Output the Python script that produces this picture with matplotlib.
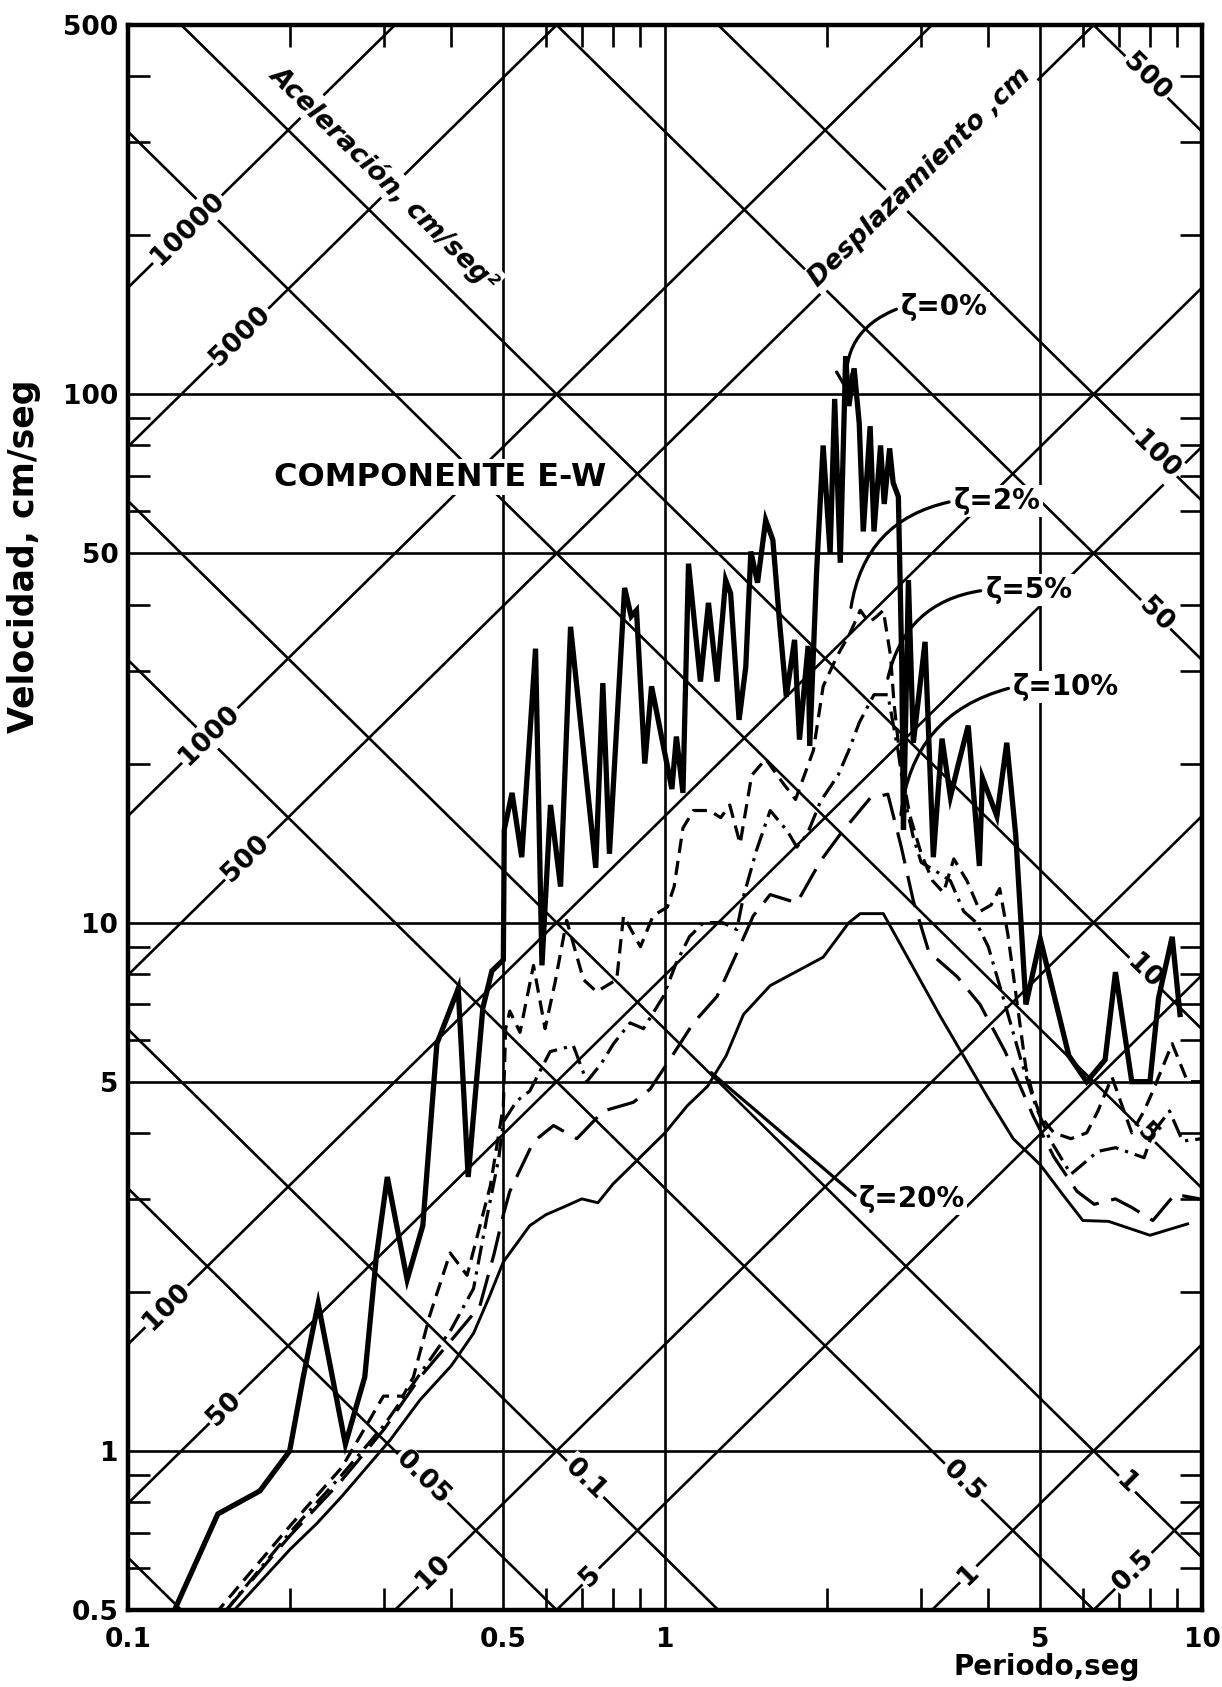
"""
Tripartite response spectra, componente E-W.
"""
import numpy as np
import matplotlib
matplotlib.use('Agg')
import matplotlib.pyplot as plt
from matplotlib.ticker import NullFormatter, LogLocator

# Axis ticks (major ones carry a grid line).
x_ticks = [0.1, 0.5, 1, 5, 10]
x_tick_labels = ['0.1', '0.5', '1', '5', '10']
y_ticks = [0.5, 1, 5, 10, 50, 100, 500]
y_tick_labels = ['0.5', '1', '5', '10', '50', '100', '500']

# Diagonal scales: displacement (cm) and acceleration (cm/seg^2).
disp_values = [0.01, 0.05, 0.1, 0.5, 1, 5, 10, 50, 100, 500]
accel_values = [0.5, 1, 5, 10, 50, 100, 500, 1000, 5000, 10000]

# Labelled diagonals and the period at which each label sits.
disp_labels = [0.05, 0.1, 0.5, 1, 5, 10, 50, 100, 500]
disp_label_T = [0.354, 0.71, 3.59, 7.25, 7.9, 7.8, 8.2, 8.2, 7.88]
accel_labels = [0.5, 1, 5, 10, 50, 100, 500, 1000, 5000, 10000]
accel_label_T = [7.45, 3.67, 0.727, 0.37, 0.151, 0.118, 0.166, 0.142,
                 0.162, 0.129]

# Spectra: periodo (seg) and velocidad (cm/seg) for each damping.
z0_T = [0.121, 0.147, 0.176, 0.2, 0.212, 0.226, 0.254, 0.276, 0.29, 0.304,
        0.331, 0.354, 0.376, 0.412, 0.43, 0.458, 0.476, 0.5, 0.502, 0.519,
        0.541, 0.574, 0.59, 0.612, 0.639, 0.667, 0.743, 0.766, 0.788, 0.841,
        0.865, 0.885, 0.917, 0.944, 1.03, 1.05, 1.08, 1.106, 1.164, 1.205,
        1.25, 1.297, 1.325, 1.374, 1.414, 1.445, 1.487, 1.54, 1.588, 1.633,
        1.682, 1.743, 1.78, 1.847, 1.86, 1.915, 1.97, 2.03, 2.07, 2.12,
        2.17, 2.2, 2.25, 2.3, 2.34, 2.41, 2.45, 2.52, 2.56, 2.62, 2.66,
        2.72, 2.76, 2.78, 2.84, 2.9, 3.05, 3.16, 3.28, 3.4, 3.52, 3.67,
        3.85, 3.9, 4.15, 4.33, 4.5, 4.7, 5.0, 5.65, 6.1, 6.6, 6.9, 7.4,
        8.0, 8.3, 8.8, 9.1]
z0_V = [0.49, 0.76, 0.84, 1.0, 1.38, 1.9, 1.03, 1.38, 2.33, 3.3,
        2.11, 2.67, 5.9, 7.5, 3.3, 6.9, 8.1, 8.5, 15, 17.6,
        13.3, 33, 8.3, 16.7, 11.7, 36.3, 12.7, 28.4, 13.5, 43,
        38, 39, 20, 28, 17.9, 22.5, 17.6, 47.8, 28.6, 40.3,
        28.6, 44.5, 42, 24.2, 30.5, 50.4, 44, 57.8, 53, 37.4,
        26.8, 34.3, 22.2, 33.4, 21.6, 45.8, 80, 50, 98, 48,
        118, 95, 112, 88, 55, 87, 55, 80, 62, 79, 68,
        64, 31, 15, 44.5, 21.9, 34, 13.3, 22.3, 17.3, 20, 23.6,
        12.8, 18.8, 15.9, 21.9, 14.6, 7.0, 9.3, 5.6, 5.0, 5.5, 8.06, 5.0,
        5.0, 7.2, 9.4, 6.7]

z2_T = [0.145, 0.2, 0.25, 0.274, 0.299, 0.325, 0.34, 0.365, 0.398, 0.428,
        0.473, 0.5, 0.505, 0.514, 0.537, 0.569, 0.598, 0.624, 0.656, 0.705,
        0.746, 0.813, 0.837, 0.9, 0.95, 1.01, 1.04, 1.08, 1.13, 1.21,
        1.27, 1.32, 1.38, 1.45, 1.54, 1.65, 1.75, 1.89, 1.97, 2.09,
        2.21, 2.31, 2.4, 2.48, 2.55, 2.63, 2.67, 2.75, 2.86, 3.0,
        3.15, 3.3, 3.45, 3.65, 3.86, 4.05, 4.2, 4.35, 4.5, 4.7,
        4.85, 5.0, 5.3, 5.7, 6.1, 6.4, 6.8, 7.1, 7.4, 7.8,
        8.1, 8.8, 9.4, 10.0]
z2_V = [0.49, 0.72, 0.93, 1.09, 1.27, 1.27, 1.38, 1.81, 2.37, 2.15,
        3.18, 4.5, 6.3, 6.8, 6.2, 8.3, 6.3, 7.7, 10.1, 7.8,
        7.4, 7.8, 10.3, 9.0, 10.3, 10.7, 11.7, 15.1, 16.3, 16.3,
        15.8, 16.7, 14.1, 19, 20.4, 18.5, 17.1, 21.2, 28, 31.9,
        35.3, 39, 37, 38, 39, 32, 26, 19.7, 15.9, 13.5,
        12, 11.4, 13.2, 12, 10.5, 10.8, 11.6, 9.5, 7.35, 5.3,
        4.7, 4.3, 4.0, 3.9, 4.0, 4.4, 5.1, 4.5, 4.0, 4.4,
        4.8, 5.9, 5.0, 5.0]

z5_T = [0.15, 0.2, 0.25, 0.3, 0.35, 0.4, 0.44, 0.466, 0.49, 0.5,
        0.53, 0.56, 0.611, 0.675, 0.715, 0.76, 0.802, 0.861, 0.912, 0.938,
        0.993, 1.05, 1.11, 1.18, 1.28, 1.36, 1.4, 1.48, 1.57, 1.69,
        1.76, 1.84, 1.95, 2.1, 2.2, 2.3, 2.45, 2.6, 2.72, 2.8,
        2.9, 3.0, 3.2, 3.4, 3.6, 3.8, 4.0, 4.3, 4.6, 4.9,
        5.2, 5.7, 6.4, 6.9, 7.8, 8.1, 8.7, 9.2, 10.0]
z5_V = [0.49, 0.7, 0.9, 1.12, 1.4, 1.7, 2.03, 2.77, 3.57, 4.2,
        4.6, 4.8, 5.7, 5.85, 5.0, 5.4, 5.9, 6.46, 6.3, 6.6,
        7.25, 8.4, 9.4, 10, 10, 9.7, 11.2, 13.7, 16.3, 14.9,
        13.9, 14.7, 17, 19, 21.2, 23.9, 27, 27, 21, 17,
        14.5, 13, 12.5, 12, 10.5, 10, 9, 7, 5.5, 4.5,
        3.9, 3.34, 3.69, 3.75, 3.59, 4.0, 4.4, 3.86, 3.9]

z10_T = [0.15, 0.2, 0.25, 0.3, 0.35, 0.4, 0.452, 0.48, 0.5, 0.514,
         0.569, 0.62, 0.685, 0.768, 0.873, 0.938, 1.02, 1.13, 1.25, 1.36,
         1.46, 1.57, 1.76, 1.95, 2.12, 2.41, 2.6, 2.75, 2.9, 3.1,
         3.5, 3.86, 4.3, 4.85, 5.3, 5.85, 6.3, 6.9, 7.4, 8.1,
         8.9, 9.9]
z10_V = [0.49, 0.69, 0.88, 1.1, 1.38, 1.62, 1.88, 2.35, 2.8, 3.1,
         3.85, 4.13, 3.9, 4.4, 4.57, 4.84, 5.5, 6.46, 7.25, 8.75,
         10.3, 11.3, 10.9, 13.1, 14.7, 17.2, 17.5, 14, 11, 8.8,
         7.9, 7.0, 5.7, 4.3, 3.6, 3.1, 2.93, 3.0, 2.89, 2.73,
         3.06, 3.0]

z20_T = [0.155, 0.2, 0.225, 0.25, 0.308, 0.35, 0.4, 0.44, 0.47, 0.5,
         0.56, 0.6, 0.65, 0.7, 0.75, 0.8, 0.9, 1.0, 1.1, 1.2,
         1.3, 1.4, 1.57, 1.97, 2.2, 2.31, 2.55, 3.25, 4.0, 4.45,
         5.0, 5.5, 6.0, 6.7, 8.0, 9.4]
z20_V = [0.49, 0.65, 0.73, 0.82, 1.05, 1.25, 1.45, 1.67, 1.95, 2.28,
         2.67, 2.8, 2.9, 3.0, 2.95, 3.2, 3.6, 4.0, 4.5, 4.9,
         5.6, 6.7, 7.6, 8.6, 10.0, 10.4, 10.4, 6.67, 4.65, 3.9,
         3.48, 3.06, 2.73, 2.72, 2.56, 2.69]

WHITE_BOX = dict(facecolor='white', edgecolor='none', pad=1.5)


def diagonalAngle(fig, ax):
    """
    Angle (deg) of a 45 degree line in data space as it looks on screen.
    """
    bb = ax.get_position()
    wpx = bb.width * fig.get_figwidth()
    hpx = bb.height * fig.get_figheight()
    xdec = wpx / np.log10(10 / 0.1)
    ydec = hpx / np.log10(500 / 0.5)
    return np.degrees(np.arctan2(ydec, xdec))


def drawDiagonals(ax, ang):
    """
    Lines of constant displacement and acceleration plus their values.
    """
    T = np.array([0.01, 100.0])
    for D in disp_values:
        ax.plot(T, 2 * np.pi * D / T, color='k', lw=1.9, zorder=1)
    for A in accel_values:
        ax.plot(T, A * T / (2 * np.pi), color='k', lw=1.9, zorder=1)

    for D, T0 in zip(disp_labels, disp_label_T):
        ax.text(T0, 2 * np.pi * D / T0, '%g' % D, rotation=-ang,
                rotation_mode='anchor', ha='center', va='center',
                fontsize=19, fontweight='bold', bbox=WHITE_BOX, zorder=2)
    for A, T0 in zip(accel_labels, accel_label_T):
        ax.text(T0, A * T0 / (2 * np.pi), '%g' % A, rotation=ang,
                rotation_mode='anchor', ha='center', va='center',
                fontsize=19, fontweight='bold', bbox=WHITE_BOX, zorder=2)


def drawSpectra(ax):
    ax.plot(z0_T, z0_V, color='k', lw=3.8, zorder=3,
            solid_joinstyle='miter')
    ax.plot(z2_T, z2_V, color='k', lw=2.3, zorder=3,
            dashes=(4.5, 2.5))
    ax.plot(z5_T, z5_V, color='k', lw=2.3, zorder=3,
            dashes=(6, 2.2, 1, 2.2))
    ax.plot(z10_T, z10_V, color='k', lw=2.3, zorder=3,
            dashes=(10, 4))
    ax.plot(z20_T, z20_V, color='k', lw=2.1, zorder=3)


def leader(rad, arrow='-'):
    return dict(arrowstyle=arrow, lw=2.3, color='k', relpos=(0, 0.5),
                shrinkA=2, shrinkB=0,
                connectionstyle='arc3,rad=%g' % rad)


def drawLabels(ax, ang):
    kw = dict(fontsize=20, fontweight='bold', ha='left', va='center',
              bbox=WHITE_BOX, zorder=5)
    ax.annotate('ζ=0%', xy=(2.19, 100), xytext=(2.75, 146),
                arrowprops=leader(0.4, '->,head_length=0.7,head_width=0.3'),
                **kw)
    ax.annotate('ζ=2%', xy=(2.22, 39.5), xytext=(3.45, 62.8),
                arrowprops=leader(0.35), **kw)
    ax.annotate('ζ=5%', xy=(2.6, 29), xytext=(3.95, 42.6),
                arrowprops=leader(0.35), **kw)
    ax.annotate('ζ=10%', xy=(2.75, 16), xytext=(4.45, 27.9),
                arrowprops=leader(0.35), **kw)
    ax.annotate('ζ=20%', xy=(1.22, 5.2), xytext=(2.3, 3.0),
                arrowprops=leader(0.0), **kw)

    ax.text(0.381, 69.7, 'COMPONENTE E-W', fontsize=23, fontweight='bold',
            ha='center', va='center', bbox=WHITE_BOX, zorder=5)
    ax.text(0.3, 257, 'Aceleración, cm/seg²', rotation=-ang,
            rotation_mode='anchor', ha='center', va='center', fontsize=19,
            fontweight='bold', fontstyle='italic', bbox=WHITE_BOX, zorder=5)
    ax.text(2.98, 257, 'Desplazamiento ,cm', rotation=ang,
            rotation_mode='anchor', ha='center', va='center', fontsize=19,
            fontweight='bold', fontstyle='italic', bbox=WHITE_BOX, zorder=5)


def main():
    fig = plt.figure(figsize=(12.22, 16.87), dpi=100)
    ax = fig.add_axes([128 / 1222, 77 / 1687, 1074 / 1222, 1585 / 1687])
    ax.set_xscale('log')
    ax.set_yscale('log')
    ax.set_xlim(0.1, 10)
    ax.set_ylim(0.5, 500)

    # Grid and ticks.
    ax.set_xticks(x_ticks)
    ax.set_xticklabels(x_tick_labels)
    ax.set_yticks(y_ticks)
    ax.set_yticklabels(y_tick_labels)
    ax.xaxis.set_minor_locator(LogLocator(subs=np.arange(2, 10)))
    ax.yaxis.set_minor_locator(LogLocator(subs=np.arange(2, 10)))
    ax.xaxis.set_minor_formatter(NullFormatter())
    ax.yaxis.set_minor_formatter(NullFormatter())
    ax.tick_params(which='both', direction='in', top=True, right=True,
                   color='k')
    ax.tick_params(which='major', length=0, labelsize=19)
    ax.tick_params(axis='x', which='major', pad=12)
    ax.tick_params(axis='y', which='major', pad=7)
    ax.tick_params(which='minor', length=16, width=1.9)
    for lab in ax.get_xticklabels() + ax.get_yticklabels():
        lab.set_fontweight('bold')
    ax.grid(which='major', color='k', lw=1.9, zorder=1)
    for sp in ax.spines.values():
        sp.set_linewidth(3.2)
        sp.set_zorder(6)

    ang = diagonalAngle(fig, ax)
    drawDiagonals(ax, ang)
    drawSpectra(ax)
    drawLabels(ax, ang)

    fig.text(24 / 1222, 1 - 556 / 1687, 'Velocidad, cm/seg', rotation=90,
             ha='center', va='center', fontsize=25, fontweight='bold')
    fig.text(1047 / 1222, 1 - 1667 / 1687, 'Periodo,seg', ha='center',
             va='center', fontsize=20, fontweight='bold')

    fig.savefig('out.png', dpi=100)


if __name__ == '__main__':
    main()
